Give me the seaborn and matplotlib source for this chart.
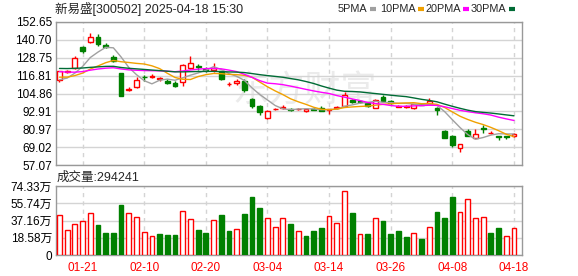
import numpy as np
import pandas as pd
import matplotlib
matplotlib.use("Agg")
import matplotlib.pyplot as plt
from matplotlib.lines import Line2D
import seaborn as sns

# ---------------- data ----------------
dates = ["01-16", "01-17", "01-20", "01-21", "01-22", "01-23", "01-24", "01-27",
         "02-05", "02-06", "02-07", "02-10", "02-11", "02-12", "02-13", "02-14",
         "02-17", "02-18", "02-19", "02-20", "02-21", "02-24", "02-25", "02-26",
         "02-27", "02-28", "03-03", "03-04", "03-05", "03-06", "03-07", "03-10",
         "03-11", "03-12", "03-13", "03-14", "03-17", "03-18", "03-19", "03-20",
         "03-21", "03-24", "03-25", "03-26", "03-27", "03-28", "03-31", "04-01",
         "04-02", "04-03", "04-07", "04-08", "04-09", "04-10", "04-11", "04-14",
         "04-15", "04-16", "04-17", "04-18"]

opens = [113.6, 119.2, 121.8, 136.2, 139.6, 142.4, 137.6, 129.1, 118.5, 107.4,
         109.2, 116.2, 115.9, 114.6, 113.4, 111.8, 112.3, 121.8, 123.5, 121.0,
         120.3, 119.6, 111.0, 111.8, 113.4, 101.4, 96.7, 88.5, 94.2, 95.3,
         94.3, 94.2, 93.1, 94.6, 94.9, 93.9, 94.9, 96.7, 100.7, 99.6,
         98.5, 95.3, 102.2, 99.6, 96.0, 95.8, 95.0, 97.8, 98.1, 95.4,
         80.1, 76.3, 68.6, 79.6, 75.2, 81.5, 78.2, 76.2, 76.2, 76.3]
highs = [120.2, 120.6, 130.0, 136.8, 145.3, 144.7, 138.4, 130.5, 118.6, 109.0,
         115.6, 117.5, 117.6, 116.0, 114.5, 113.0, 124.5, 130.0, 124.5, 122.5,
         125.1, 120.2, 112.5, 114.8, 114.5, 101.6, 96.9, 94.0, 95.5, 97.0,
         95.5, 95.5, 94.8, 95.3, 96.2, 94.8, 96.3, 106.0, 101.5, 100.3,
         99.0, 101.3, 103.6, 100.8, 97.3, 97.0, 98.0, 98.8, 101.6, 95.6,
         80.3, 77.4, 71.2, 81.2, 80.8, 83.5, 80.0, 76.5, 76.4, 78.3]
lows = [112.8, 118.3, 121.3, 131.8, 138.5, 136.9, 135.3, 126.0, 102.9, 106.5,
        108.6, 113.5, 115.0, 113.5, 111.0, 109.0, 110.0, 121.0, 120.5, 119.0,
        119.5, 114.2, 110.0, 110.5, 105.6, 95.2, 90.7, 88.0, 94.0, 94.5,
        93.2, 93.8, 92.7, 93.9, 93.2, 91.2, 94.6, 96.4, 98.5, 98.8,
        96.0, 95.0, 99.5, 97.6, 95.6, 95.3, 94.6, 96.9, 97.8, 90.3,
        75.0, 69.0, 65.7, 76.2, 74.8, 78.5, 77.5, 74.0, 74.2, 75.8]
closes = [119.6, 119.9, 128.5, 133.6, 142.9, 137.8, 135.8, 126.9, 102.9, 108.0,
          113.6, 115.7, 116.4, 115.0, 111.8, 109.6, 124.0, 125.1, 122.5, 120.6,
          121.8, 114.5, 111.5, 113.4, 106.9, 96.7, 92.3, 93.4, 94.8, 95.9,
          93.8, 94.5, 94.3, 94.1, 93.4, 94.2, 95.9, 103.8, 98.9, 99.2,
          96.3, 100.3, 99.9, 98.2, 96.6, 96.3, 97.6, 97.3, 100.0, 93.6,
          75.2, 70.6, 71.0, 76.7, 77.9, 81.0, 78.7, 75.6, 75.9, 77.9]
# volume in 万 shares
volumes = [42.9, 27.2, 33.2, 36.4, 45.0, 32.5, 23.9, 23.9, 54.0, 45.0,
           40.7, 24.7, 20.4, 22.9, 21.8, 21.8, 47.5, 38.6, 27.2, 23.9,
           37.5, 43.2, 26.1, 28.2, 44.3, 62.5, 50.7, 40.0, 30.0, 39.7,
           33.6, 26.1, 20.7, 26.1, 29.3, 42.2, 34.3, 68.6, 45.4, 22.9,
           22.9, 40.0, 36.8, 22.9, 26.1, 19.7, 23.6, 17.5, 30.4, 46.8,
           40.0, 62.5, 46.4, 60.4, 40.0, 41.1, 23.9, 29.3, 20.7, 29.42]
# closes of the 29 sessions before the window (estimated from the MA lines' start)
prior_closes = [122, 124, 127, 130, 128, 126, 125, 127, 124, 125,
                127, 129, 126, 124, 122, 125, 121, 119, 120, 119,
                120, 118, 117, 116, 117, 114, 112, 111.4, 113]

tick_dates = ["01-21", "02-10", "02-20", "03-04", "03-14", "03-26", "04-08", "04-18"]
price_ticks = [57.07, 69.02, 80.97, 92.91, 104.86, 116.81, 128.75, 140.70, 152.65]
vol_ticks = [0, 18.58, 37.16, 55.74, 74.33]
ma_windows = [5, 10, 20, 30]
ma_labels = ["5PMA", "10PMA", "20PMA", "30PMA"]
title_text = "新易盛[300502] 2025-04-18 15:30"
last_volume = "294241"

# ---------------- style ----------------
RED = "#ff0000"
GREEN = "#008000"
ma_colors = ["#a0a0a0", "#f0a000", "#ff00ff", "#006b35"]
FRAME = "#999999"
GRID = "#d4d4d4"

sns.set_theme(style="white")
plt.rcParams["font.family"] = ["Liberation Sans", "Noto Sans CJK SC", "DejaVu Sans"]

W, H = 578, 276
fig = plt.figure(figsize=(W / 100, H / 100), dpi=100)
ax1 = fig.add_axes([56 / W, 1 - 165 / H, 466 / W, 143 / H])
ax2 = fig.add_axes([56 / W, 1 - 255 / H, 466 / W, 69 / H])

df = pd.DataFrame({"date": dates, "open": opens, "high": highs, "low": lows,
                   "close": closes, "volume": volumes})
df["idx"] = np.arange(len(df))
all_close = pd.Series(prior_closes + closes)
for w, lab in zip(ma_windows, ma_labels):
    df[lab] = all_close.rolling(w).mean().iloc[len(prior_closes):].to_numpy()

up = (df["close"] >= df["open"]).to_numpy()
prev_close = np.concatenate([[prior_closes[-1]], df["close"].to_numpy()[:-1]])
vol_up = df["close"].to_numpy() >= prev_close

# ---------------- price panel ----------------
cw = 0.62
ax1.vlines(df["idx"], df["low"], df["high"], colors=np.where(up, RED, GREEN),
           linewidth=1, zorder=2)
body_lo = np.minimum(df["open"], df["close"])
body_h = np.maximum(np.abs(df["close"] - df["open"]), 0.3)
ax1.bar(df["idx"][up], body_h[up], bottom=body_lo[up], width=cw,
        facecolor="white", edgecolor=RED, linewidth=1, zorder=3)
ax1.bar(df["idx"][~up], body_h[~up], bottom=body_lo[~up], width=cw,
        facecolor=GREEN, edgecolor=GREEN, linewidth=1, zorder=3)

long = df.melt(id_vars="idx", value_vars=ma_labels, var_name="ma", value_name="v")
sns.lineplot(data=long, x="idx", y="v", hue="ma", palette=dict(zip(ma_labels, ma_colors)),
             ax=ax1, legend=False, linewidth=1, zorder=4)

# watermark (pixel coordinates)
ax1.text(232, H - 92, "东方财富", transform=None, fontsize=26, color="#ebebeb",
         va="center", ha="left", zorder=0.3, family=["Noto Sans CJK SC"])

# ---------------- volume panel ----------------
ax2.bar(df["idx"][vol_up], df["volume"][vol_up], width=cw, facecolor="white",
        edgecolor=RED, linewidth=1, zorder=3)
ax2.bar(df["idx"][~vol_up], df["volume"][~vol_up], width=cw, facecolor=GREEN,
        edgecolor=GREEN, linewidth=1, zorder=3)

tick_idx = [dates.index(d) for d in tick_dates]
xl = (-0.45, len(dates) - 1 + 1.04)
for ax in (ax1, ax2):
    ax.set_xlim(*xl)
    ax.set_xticks(tick_idx)
    ax.set_axisbelow(True)
    ax.grid(True, axis="y", color=GRID, linewidth=1, linestyle="-")
    ax.grid(True, axis="x", color=GRID, linewidth=1, linestyle=(0, (3, 3)))
    ax.set_xlabel("")
    ax.set_ylabel("")
    for s in ax.spines.values():
        s.set_color(FRAME)
        s.set_linewidth(1)
    ax.tick_params(length=0, pad=3, labelsize=8.5, colors="black")

ax1.set_ylim(price_ticks[0], price_ticks[-1])
ax1.set_yticks(price_ticks)
ax1.set_yticklabels([f"{t:.2f}" for t in price_ticks])
ax1.tick_params(labelbottom=False)

ax2.set_ylim(vol_ticks[0], vol_ticks[-1])
ax2.set_yticks(vol_ticks)
ax2.set_yticklabels(["0"] + [f"{t:.2f}万" for t in vol_ticks[1:]])
ax2.set_xticklabels(tick_dates, color=RED)
ax2.tick_params(axis="x", pad=5)

# ---------------- texts ----------------
fig.text(55 / W, 1 - 9 / H, title_text, fontsize=9, va="center", ha="left")
fig.text(57 / W, 1 - 178 / H, "成交量:" + last_volume, fontsize=9, va="center", ha="left")

renderer = fig.canvas.get_renderer()
leg_x = [338, 380, 425, 471]
for x0, lab, col in zip(leg_x, ma_labels, ma_colors):
    t = fig.text(x0 / W, 1 - 9 / H, lab, fontsize=7.8, va="center", ha="left")
    x1 = t.get_window_extent(renderer).x1
    fig.add_artist(Line2D([(x1 + 2) / W, (x1 + 8) / W], [1 - 9 / H, 1 - 9 / H],
                          transform=fig.transFigure, color=col, linewidth=3,
                          solid_capstyle="butt"))

fig.savefig("out.png", dpi=100)
